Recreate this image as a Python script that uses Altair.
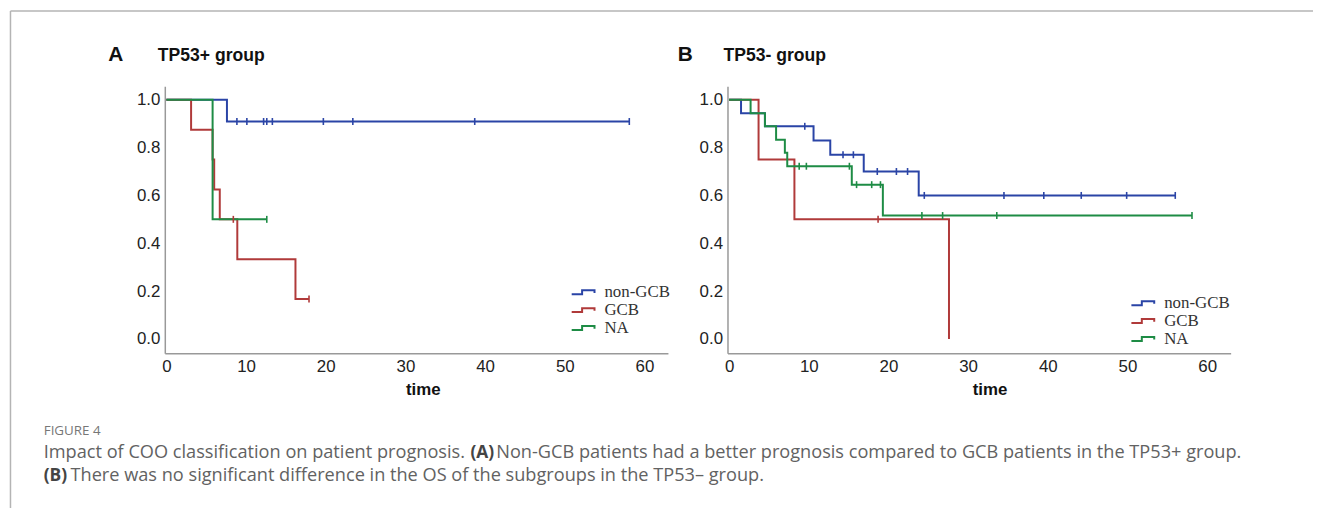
import altair as alt
import pandas as pd

groups = ["non-GCB", "GCB", "NA"]
colors = ["#2a44a6", "#b03a3a", "#1e8c45"]

# Panel A: TP53+ group (step curves: event times / survival after the event)
a_nongcb_t = [0, 7.6, 58.1]
a_nongcb_s = [1.0, 0.909, 0.909]
a_nongcb_cens = [8.85, 10.1, 12.2, 12.6, 13.3, 19.7, 23.4, 38.7, 58.1]
a_gcb_t = [0, 3.1, 5.8, 6.0, 6.7, 8.9, 16.2, 17.9]
a_gcb_s = [1.0, 0.875, 0.75, 0.625, 0.5, 0.333, 0.167, 0.167]
a_gcb_cens = [8.4, 17.9]
a_na_t = [0, 5.8, 12.6]
a_na_s = [1.0, 0.5, 0.5]
a_na_cens = [12.6]

# Panel B: TP53- group
b_nongcb_t = [0, 1.5, 4.5, 10.6, 12.7, 16.9, 23.8, 56.0]
b_nongcb_s = [1.0, 0.944, 0.889, 0.830, 0.770, 0.700, 0.600, 0.600]
b_nongcb_cens = [9.5, 14.3, 15.6, 18.6, 21.0, 22.4, 24.5, 34.5, 39.5, 44.2, 49.9, 56.0]
b_gcb_t = [0, 3.7, 8.2, 27.6]
b_gcb_s = [1.0, 0.75, 0.5, 0.0]
b_gcb_cens = [18.7]
b_na_t = [0, 2.7, 4.5, 5.9, 7.0, 7.3, 15.4, 19.3, 58.1]
b_na_s = [1.0, 0.944, 0.889, 0.833, 0.778, 0.722, 0.645, 0.516, 0.516]
b_na_cens = [8.8, 9.7, 15.1, 16.0, 17.9, 19.0, 24.2, 26.8, 33.6, 58.1]

x_ticks = [0, 10, 20, 30, 40, 50, 60]
y_ticks = [0.0, 0.2, 0.4, 0.6, 0.8, 1.0]

panel_letters = ["A", "B"]
panel_titles = ["TP53+ group", "TP53- group"]
axis_title = "time"

fig_label = "FIGURE 4"
cap1 = ["Impact of COO classification on patient prognosis.", "(A)",
        "Non-GCB patients had a better prognosis compared to GCB patients in the TP53+ group."]
cap2 = ["(B)", "There was no significant difference in the OS of the subgroups in the TP53\u2013 group."]


def surv_at(ts, ss, t):
    v = ss[0]
    for ti, si in zip(ts, ss):
        if ti <= t:
            v = si
    return v


def build(curves):
    lines, cens = [], []
    for g, (ts, ss, cs) in zip(groups, curves):
        for t, s in zip(ts, ss):
            lines.append({"group": g, "time": t, "surv": s})
        for c in cs:
            cens.append({"group": g, "time": c, "surv": surv_at(ts, ss, c)})
    return pd.DataFrame(lines), pd.DataFrame(cens)


W, H = 507, 269
XDOM = [-0.2, 62.95]
YDOM = [-0.06, 1.056]
SYMBOL = "M-2.3,0.4L-0.2,0.4L-0.2,-0.4L2.3,-0.4L2.3,0.13"
AX_LABEL = dict(labelFont="Liberation Sans", labelFontSize=17, labelColor="#222")


def panel(curves, idx, legend_x, legend_y, title_x, extra=None):
    lines_df, cens_df = build(curves)
    x = alt.X("time:Q", scale=alt.Scale(domain=XDOM, nice=False, zero=False),
              axis=alt.Axis(values=x_ticks, title=axis_title, grid=False, ticks=False, tickSize=0,
                            labelPadding=5, titleX=title_x, titleY=37, titleBaseline="middle",
                            titleFont="Liberation Sans", titleFontSize=17, titleFontWeight="bold",
                            titleColor="#111", **AX_LABEL))
    y = alt.Y("surv:Q", scale=alt.Scale(domain=YDOM, nice=False, zero=False),
              axis=alt.Axis(values=y_ticks, format=".1f", title=None, grid=False, ticks=False,
                            tickSize=0, labelPadding=5, **AX_LABEL))
    cscale = alt.Scale(domain=groups, range=colors)
    lines = alt.Chart(lines_df).mark_line(interpolate="step-after", strokeWidth=2).encode(
        x=x, y=y,
        color=alt.Color("group:N", scale=cscale, sort=groups,
                        legend=alt.Legend(title=None, orient="none", legendX=legend_x, legendY=legend_y,
                                          symbolType=SYMBOL, symbolSize=100, symbolStrokeWidth=2,
                                          symbolFillColor="transparent", labelFont="Liberation Serif",
                                          labelFontSize=17, labelColor="#333", labelOffset=13,
                                          rowPadding=0, padding=0)),
        order=alt.Order("time:Q"),
    )
    ticks = alt.Chart(cens_df).mark_point(shape="M0,-1L0,1", size=49, filled=False, strokeWidth=1.6,
                                          opacity=1).encode(
        x=x, y=y, color=alt.Color("group:N", scale=cscale, legend=None))
    one = pd.DataFrame({"k": [0]})
    letter = alt.Chart(one).mark_text(text=panel_letters[idx], font="Liberation Sans", fontSize=21,
                                      fontWeight="bold", color="#111", align="left", baseline="middle").encode(
        x=alt.value(-57 if idx == 0 else -50), y=alt.value(-32))
    ttl = alt.Chart(one).mark_text(text=panel_titles[idx], font="Liberation Sans", fontSize=17.7,
                                   fontWeight="bold", color="#111", align="left", baseline="middle").encode(
        x=alt.value(-7 if idx == 0 else -4), y=alt.value(-31))
    layers = [lines, ticks, letter, ttl]
    if extra:
        layers += extra
    return alt.layer(*layers).properties(width=W, height=H)


one = pd.DataFrame({"k": [0]})
frame_v = alt.Chart(one).mark_rule(color="#b4b4b4", strokeWidth=1.5).encode(
    x=alt.value(-155.5), y=alt.value(-76), y2=alt.value(430))
frame_h = alt.Chart(one).mark_rule(color="#b4b4b4", strokeWidth=1.5).encode(
    x=alt.value(-155.5), x2=alt.value(1157), y=alt.value(-76))


def txt(s, x, y, size=18.3, weight="normal", color="#626262"):
    return alt.Chart(one).mark_text(text=s, font="Open Sans", fontSize=size, fontWeight=weight,
                                    color=color, align="left", baseline="middle").encode(
        x=alt.value(x), y=alt.value(y))


caption = [
    txt(fig_label, -122, 347, size=13.5, color="#777"),
    txt(cap1[0], -122, 370),
    txt(cap1[1], 308, 370, size=17.5, weight="bold", color="#444"),
    txt(cap1[2], 334, 370),
    txt(cap2[0], -122, 393, size=17.5, weight="bold", color="#444"),
    txt(cap2[1], -95, 393),
]

pA = panel([(a_nongcb_t, a_nongcb_s, a_nongcb_cens), (a_gcb_t, a_gcb_s, a_gcb_cens),
            (a_na_t, a_na_s, a_na_cens)], 0, 413, 199, 260, [frame_v, frame_h] + caption)
pB = panel([(b_nongcb_t, b_nongcb_s, b_nongcb_cens), (b_gcb_t, b_gcb_s, b_gcb_cens),
            (b_na_t, b_na_s, b_na_cens)], 1, 410, 210, 264)

chart = alt.hconcat(pA, pB, spacing=60, bounds="flush").resolve_scale(color="independent").properties(
    padding={"left": 1, "top": 0, "right": 0, "bottom": 0}
).configure_view(stroke=None).configure_axis(
    domainColor="#999", domainWidth=1.5
)

chart.save("out.html", embed_options={"renderer": "svg", "actions": False})
